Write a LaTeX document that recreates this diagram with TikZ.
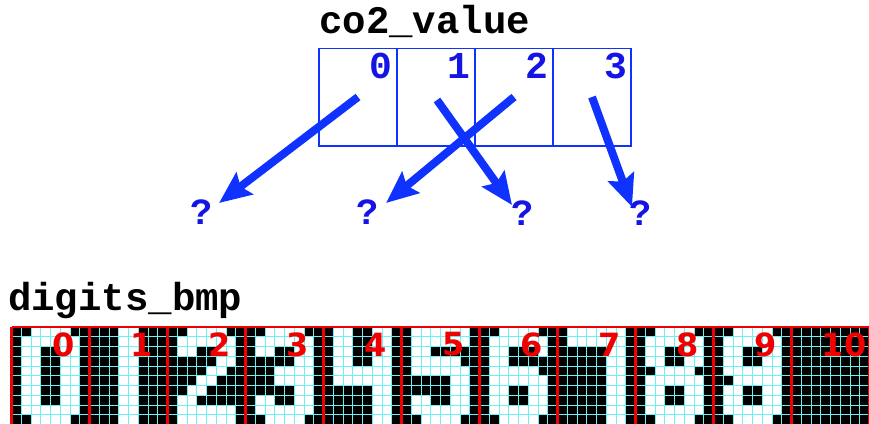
\documentclass[tikz,border=0pt]{standalone}
\usepackage{fontspec}
\usepackage{tikz}
\usetikzlibrary{arrows.meta, positioning}
\newfontfamily\codefont{Liberation Mono}
\newfontfamily\labelfont{DejaVu Sans}
\definecolor{ptrblue}{RGB}{15, 50, 255}
\definecolor{idxblue}{RGB}{20, 20, 230}
\definecolor{bmpred}{RGB}{240, 0, 0}
\definecolor{bmpgrid}{RGB}{110, 240, 240}

\begin{document}
\begin{tikzpicture}[
    x=1pt, y=-1pt,
    cellbox/.style={draw=ptrblue, line width=1.5pt, minimum width=78pt,
                    minimum height=97.5pt, outer sep=0pt, inner sep=0pt},
    idx/.style={font=\codefont\bfseries\fontsize{38}{38}\selectfont, text=idxblue, inner sep=0pt},
    qmark/.style={font=\codefont\bfseries\fontsize{37}{37}\selectfont, text=idxblue, inner sep=0pt},
    title/.style={font=\codefont\bfseries\fontsize{39}{39}\selectfont, inner sep=0pt, anchor=base west},
    digitlbl/.style={font=\labelfont\bfseries\fontsize{32}{32}\selectfont, text=bmpred, inner sep=0pt},
    arr/.style={-{Stealth[length=32pt, width=27pt, inset=5pt]}, line width=8pt, ptrblue},
  ]
  \useasboundingbox (0,0) rectangle (869,423);

  \node[title] (valname) at (319,33) {co2\_value};
  \node[cellbox] (v0) at (358,97) {};
  \node[cellbox, right=0pt of v0] (v1) {};
  \node[cellbox, right=0pt of v1] (v2) {};
  \node[cellbox, right=0pt of v2] (v3) {};

  \node[idx] (i0) at ([shift={(23,-31)}]v0.center) {0};
  \node[idx] (i1) at ([shift={(23,-31)}]v1.center) {1};
  \node[idx] (i2) at ([shift={(23,-31)}]v2.center) {2};
  \node[idx] (i3) at ([shift={(24,-31)}]v3.center) {3};

  \node[qmark] (q0) at (202,212) {?};
  \node[qmark] (q1) at (368,212) {?};
  \node[qmark] (q2) at (523,213) {?};
  \node[qmark] (q3) at (641,213) {?};

  \draw[arr] (v0.center) -- ([shift={(17,-9)}]q0.center);
  \draw[arr] ([shift={(1,3)}]v1.center) -- ([shift={(-11,-8)}]q2.center);
  \draw[arr] (v2.center) -- ([shift={(18,-9)}]q1.center);
  \draw[arr] (v3.center) -- ([shift={(-9,-6)}]q3.center);

  \node[title] (bmpname) at (8,310) {digits\_bmp};

  \begin{scope}
    \clip (0,0) rectangle (869,423);
    \fill[black] (11.5,327) rectangle (869,430);
    \foreach \d/\cx/\ry/\w/\h/\col in {
        0/2/0/4/1/white, 0/1/1/6/8/white, 0/2/9/4/1/white, 0/3/2/2/6/black,
        1/3/0/2/10/white,
        2/2/0/4/1/white, 2/1/1/6/2/white, 2/3/2/2/1/black, 2/5/3/2/1/white,
        2/4/4/2/1/white, 2/3/5/2/1/white, 2/2/6/2/1/white, 2/1/7/2/1/white,
        2/1/8/6/2/white,
        3/2/0/4/1/white, 3/1/1/6/8/white, 3/2/9/4/1/white, 3/3/2/2/2/black,
        3/1/3/2/4/black, 3/3/6/2/2/black,
        4/1/0/2/6/white, 4/5/0/2/10/white, 4/3/4/2/2/white,
        5/1/0/6/2/white, 5/1/2/2/3/white, 5/3/3/3/1/white, 5/3/4/4/1/white,
        5/5/5/2/3/white, 5/1/7/2/1/white, 5/1/8/6/1/white, 5/2/9/4/1/white,
        6/2/0/4/1/white, 6/1/1/6/8/white, 6/2/9/4/1/white, 6/3/2/3/2/black,
        6/6/3/1/2/black, 6/3/6/2/2/black,
        7/1/0/6/2/white, 7/5/2/2/8/white,
        8/2/0/4/1/white, 8/1/1/6/8/white, 8/2/9/4/1/white, 8/3/2/2/2/black,
        8/3/6/2/2/black, 8/1/4/1/1/black, 8/6/4/1/1/black,
        9/2/0/4/1/white, 9/1/1/6/8/white, 9/2/9/4/1/white, 9/3/2/2/2/black,
        9/3/6/2/2/black, 9/1/5/1/1/black}
      \fill[\col] ({11.5+78*\d+9.75*\cx},{327+9.75*\ry}) rectangle +({9.75*\w},{9.75*\h});
    \foreach \k in {0,...,88}
      \draw[bmpgrid, line width=0.7pt] ({11.5+9.75*\k},327) -- ++(0,100);
    \foreach \k in {1,...,10}
      \draw[bmpgrid, line width=0.7pt] (11.5,{327+9.75*\k}) -- (869,{327+9.75*\k});
    \foreach \n in {0,...,11}
      \draw[bmpred, line width=2.2pt] ({11.5+78*\n},327) -- ({11.5+78*\n},427);
    \draw[bmpred, line width=2.2pt] (11.5,327) -- (869,327);
  \end{scope}

  \foreach \d in {0,...,10}
    \node[digitlbl] (n\d) at ({64+78*\d},344.5) {\d};
\end{tikzpicture}
\end{document}
